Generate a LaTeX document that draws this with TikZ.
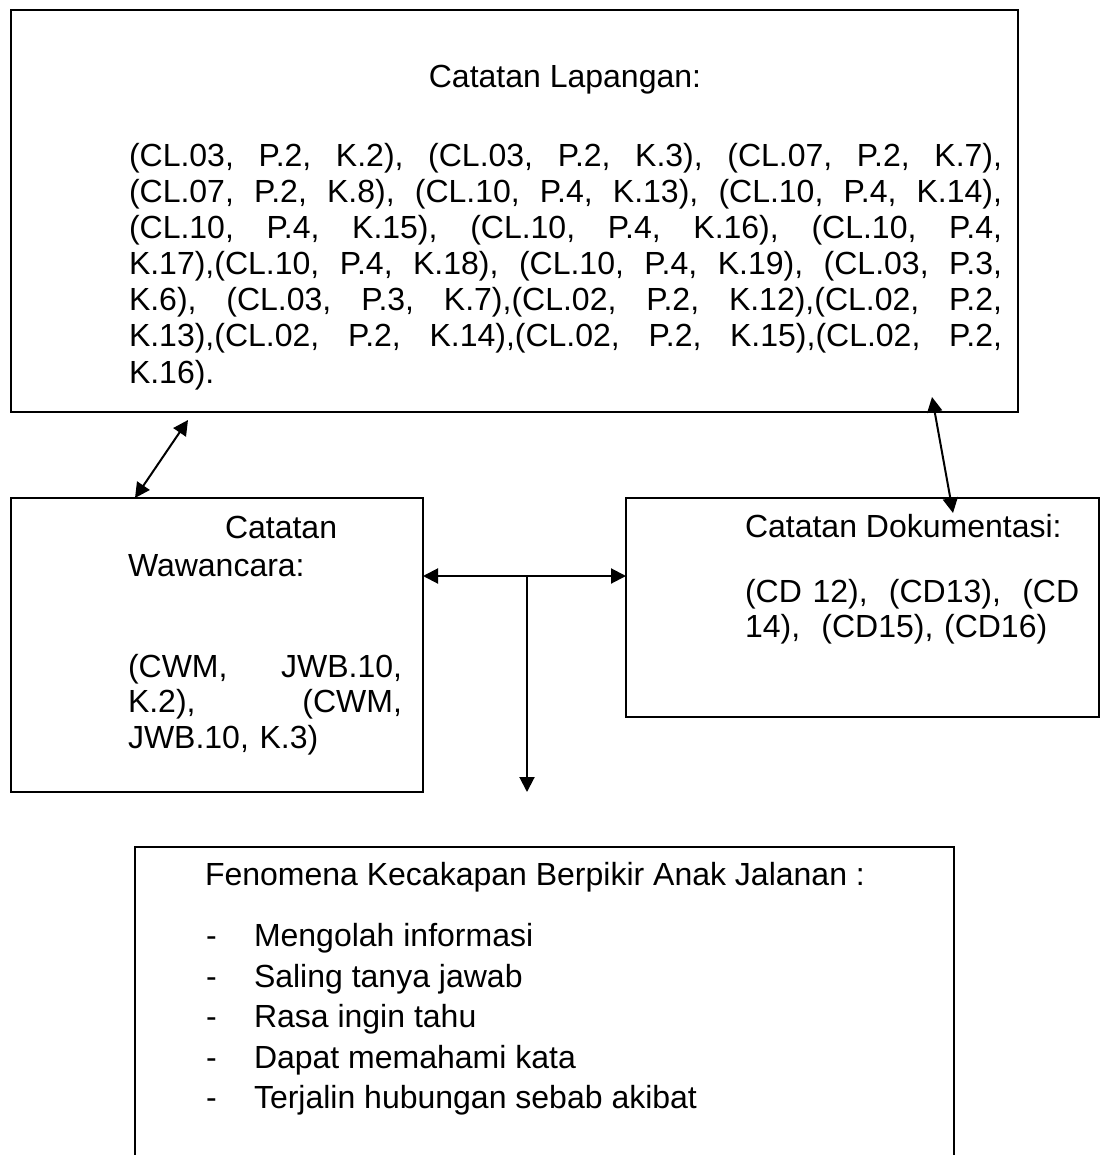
\documentclass[tikz,border=0pt]{standalone}
\usepackage{fontspec}
\setmainfont{Liberation Sans}
\usetikzlibrary{arrows.meta,calc}
% one justified line of a given width: every space stretches equally
\newcommand\jline[2]{\leavevmode\hbox to #1{\spaceskip=0.278em plus 1fil\relax #2}}

\begin{document}
\begin{tikzpicture}[x=0.5pt,y=-0.5pt,
  box/.style={draw, line width=1.1pt, inner sep=0pt, outer sep=0pt},
  txt/.style={inner sep=0pt, outer sep=0pt, anchor=base west,
              font=\fontsize{16}{18}\selectfont},
  link/.style={line width=1pt, {Triangle[length=7.5pt,width=7.5pt]}-{Triangle[length=7.5pt,width=7.5pt]}},
  down/.style={line width=1pt, -{Triangle[length=7.5pt,width=7.5pt]}}]

\useasboundingbox (0,0) rectangle (1101,1155);

% boxes
\node[box, minimum width=503.5pt, minimum height=201pt]   (lap) at (514.5,211)   {};
\node[box, minimum width=206pt,   minimum height=147pt]   (waw) at (217,645)     {};
\node[box, minimum width=236.5pt, minimum height=109.5pt] (dok) at (862.5,607.5) {};
\begin{scope}
  \clip (0,0) rectangle (1101,1155);
  \node[box, minimum width=409.5pt, minimum height=164pt] (fen) at (544.5,1011) {};
\end{scope}

% Catatan Lapangan
\node[txt, anchor=base] (laptitle) at (565,88) {Catatan Lapangan:};
\node[txt, text width=436.5pt] (lapbody) at (129,167) {%
\jline{436.5pt}{(CL.03, P.2, K.2), (CL.03, P.2, K.3), (CL.07, P.2, K.7),}\\
\jline{436.5pt}{(CL.07, P.2, K.8), (CL.10, P.4, K.13), (CL.10, P.4, K.14),}\\
\jline{436.5pt}{(CL.10, P.4, K.15), (CL.10, P.4, K.16), (CL.10, P.4,}\\
\jline{436.5pt}{K.17),(CL.10, P.4, K.18), (CL.10, P.4, K.19), (CL.03, P.3,}\\
\jline{436.5pt}{K.6), (CL.03, P.3, K.7),(CL.02, P.2, K.12),(CL.02, P.2,}\\
\jline{436.5pt}{K.13),(CL.02, P.2, K.14),(CL.02, P.2, K.15),(CL.02, P.2,}\\
K.16).};

% Catatan Wawancara
\node[txt, text width=137pt, font=\fontsize{16}{19}\selectfont] (wawtitle) at (128,538)
  {\hspace*{48.5pt}Catatan\\Wawancara:};
\node[txt, text width=137pt, font=\fontsize{16}{17.75}\selectfont] (wawbody) at (128,677)
  {\jline{137pt}{(CWM, JWB.10,}\\\jline{137pt}{K.2), (CWM,}\\JWB.10, K.3)};

% Catatan Dokumentasi
\node[txt] (doktitle) at (745,537) {Catatan Dokumentasi:};
\node[txt, text width=175pt, font=\fontsize{16}{17.5}\selectfont] (dokbody) at (745,602)
  {(CD 12),\ \ (CD13),\ \ (CD\\14),\ \ (CD15), (CD16)};

% Fenomena
\node[txt] (fentitle) at (205,885) {Fenomena Kecakapan Berpikir Anak Jalanan :};
\foreach \t [count=\i] in {Mengolah informasi, Saling tanya jawab, Rasa ingin tahu,
                          Dapat memahami kata, Terjalin hubungan sebab akibat} {
  \node[txt] (dash\i) at (206,906+40.5*\i) {-};
  \node[txt] (item\i) at (254,906+40.5*\i) {\t};
}

% connectors
\coordinate (lwA) at ([shift={(177,8)}]lap.south west);
\coordinate (lwB) at ([shift={(124,0)}]waw.north west);
\draw[link] (lwA) -- (lwB);

\coordinate (ldA) at ([shift={(-86,-15)}]lap.south east);
\coordinate (ldB) at ([shift={(327,15)}]dok.north west);
\draw[link] (ldA) -- (ldB);

\coordinate (hub) at ([shift={(104,78)}]waw.north east);
\draw[link] (waw.east |- hub) -- (dok.west |- hub);
\draw[down] (hub) -- (hub |- waw.south);

\end{tikzpicture}
\end{document}
